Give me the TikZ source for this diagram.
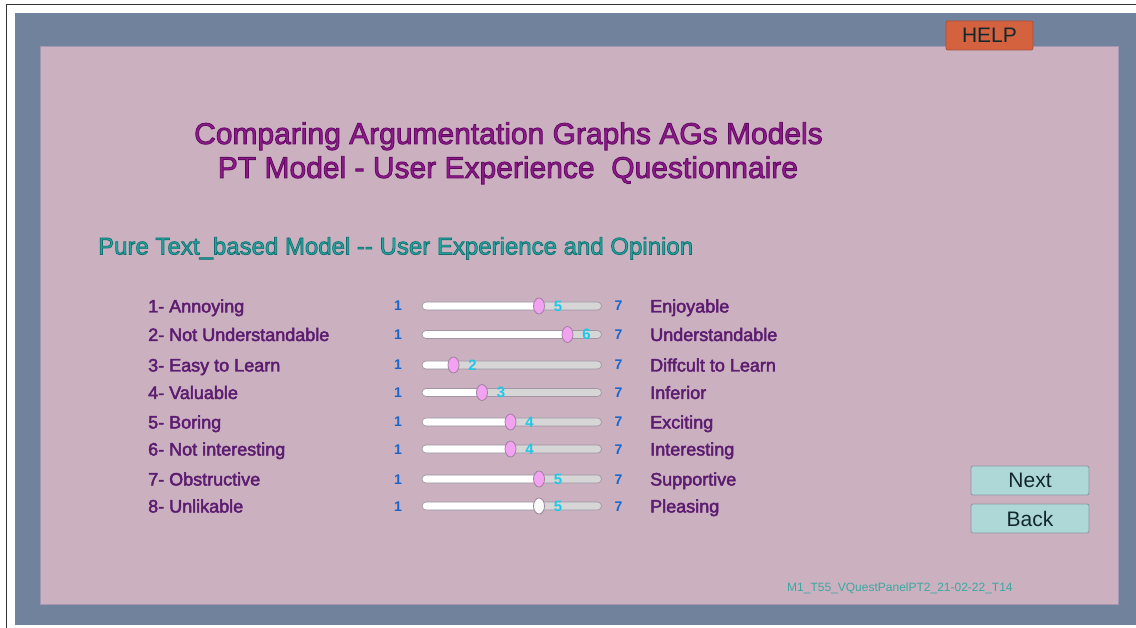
\documentclass[tikz,border=0pt]{standalone}
\usepackage{fontspec}
\setmainfont{Liberation Sans}
\usetikzlibrary{shapes.geometric}
\definecolor{slate}{RGB}{113,131,156}
\definecolor{panel}{RGB}{203,176,192}
\definecolor{paneledge}{RGB}{165,150,180}
\definecolor{titlec}{RGB}{142,26,140}
\definecolor{subc}{RGB}{32,170,162}
\definecolor{labc}{RGB}{92,28,112}
\definecolor{numc}{RGB}{22,102,205}
\definecolor{valc}{RGB}{30,200,232}
\definecolor{helpc}{RGB}{212,98,63}
\definecolor{helpedge}{RGB}{170,80,60}
\definecolor{btnc}{RGB}{174,216,216}
\definecolor{btnedge}{RGB}{140,150,160}
\definecolor{btntxt}{RGB}{18,40,45}
\definecolor{knobc}{RGB}{242,162,240}
\definecolor{knobw}{RGB}{250,250,250}
\definecolor{knobedge}{RGB}{160,130,160}
\definecolor{trackgrey}{RGB}{214,214,214}
\definecolor{trackedge}{RGB}{160,150,165}
\definecolor{footc}{RGB}{58,168,160}
\newcommand\outlined[3]{\special{pdf:literal direct #1 RG #2 w 2 Tr}#3\special{pdf:literal direct 0 Tr}}
\newcommand\labtext[1]{\outlined{0.36 0.11 0.44}{0.45}{#1}}
\tikzset{
  lab/.style={anchor=base west, text=labc, font=\fontsize{18}{18}\selectfont, inner sep=0pt},
  num/.style={anchor=base, text=numc, font=\bfseries\fontsize{14}{14}\selectfont, inner sep=0pt},
  val/.style={anchor=base, text=valc, font=\bfseries\fontsize{15}{15}\selectfont, inner sep=0pt},
  knob/.style={ellipse, minimum width=11pt, minimum height=16pt, inner sep=0pt, draw=knobedge, line width=0.8pt},
  btn/.style={draw=btnedge, rounded corners=2pt, fill=btnc, text=btntxt, font=\fontsize{21}{21}\selectfont, minimum width=118pt, minimum height=29pt, inner sep=0pt, line width=0.8pt},
  track/.style={draw=trackedge, fill=trackgrey, rounded corners=4pt, line width=0.7pt}
}
\begin{document}
\begin{tikzpicture}[x=1pt,y=-1pt]
\useasboundingbox (0,0) rectangle (1136,628);
\fill[white] (0,0) rectangle (1136,628);
% outer frame lines
\draw[line width=1.5pt, black!80] (6.5,628) -- (6.5,4.5) -- (1136,4.5);
% slate background
\fill[slate] (15,13) rectangle (1136,625);
% panel
\draw[fill=panel, draw=paneledge, line width=1pt] (40,47) rectangle (1118,604);
% help button
\node[draw=helpedge, fill=helpc, rounded corners=2pt, minimum width=87pt, minimum height=29pt, inner sep=0pt, text=btntxt, font=\fontsize{21}{21}\selectfont, line width=0.8pt] (help) at (989.5,35.5) {HELP};
% titles
\node[anchor=base, text=titlec, font=\fontsize{30}{30}\selectfont, inner sep=0pt] (t1) at (508.5,144) {\outlined{0.38 0.04 0.38}{0.8}{Comparing Argumentation Graphs AGs Models}};
\node[anchor=base, text=titlec, font=\fontsize{30}{30}\selectfont, inner sep=0pt] (t2) at (508,178) {\outlined{0.38 0.04 0.38}{0.8}{PT Model - User Experience\ \ Questionnaire}};
\node[anchor=base west, text=subc, font=\fontsize{24}{24}\selectfont, inner sep=0pt] (sub) at (98,254.5) {\outlined{0.07 0.43 0.43}{0.7}{Pure Text\_based Model -{}- User Experience and Opinion}};
% rows
\foreach \i/\y/\L/\R/\v/\kc in {
  1/306/1- Annoying/Enjoyable/5/knobc,
  2/334.5/2- Not Understandable/Understandable/6/knobc,
  3/365/3- Easy to Learn/Diffcult to Learn/2/knobc,
  4/392.5/4- Valuable/Inferior/3/knobc,
  5/422/5- Boring/Exciting/4/knobc,
  6/449/6- Not interesting/Interesting/4/knobc,
  7/479/7- Obstructive/Supportive/5/knobc,
  8/506/8- Unlikable/Pleasing/5/knobw}{
  \node[lab] (l\i) at (148,\y+6.5) {\labtext{\L}};
  \node[num] (a\i) at (398,\y+5) {1};
  \node[num] (b\i) at (618.5,\y+5) {7};
  \node[lab] (r\i) at (650,\y+6.5) {\labtext{\R}};
  \pgfmathsetmacro\kx{425+28.5*(\v-1)}
  \draw[track] (422,\y-4) rectangle (601.5,\y+4);
  \fill[white, rounded corners=3.5pt] (422.6,\y-3.4) rectangle (\kx,\y+3.4);
  \node[knob, fill=\kc] (k\i) at (\kx,\y) {};
  \node[val] (v\i) at (\kx+19,\y+5.5) {\v};
}
% buttons
\node[btn] (next) at (1030,480.5) {Next};
\node[btn] (back) at (1030,518.5) {Back};
% footer
\node[anchor=base west, text=footc, font=\fontsize{12}{12}\selectfont, inner sep=0pt] (foot) at (787,591.5) {M1\_T55\_VQuestPanelPT2\_21-02-22\_T14};
\end{tikzpicture}
\end{document}
